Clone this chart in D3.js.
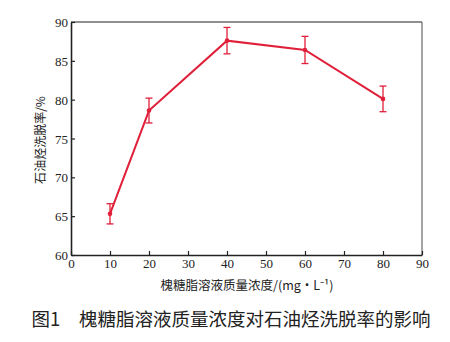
<!DOCTYPE html>
<html><head><meta charset="utf-8">
<script src="https://cdn.jsdelivr.net/npm/d3@7"></script>
<style>body{margin:0;background:#fff}svg{display:block}</style>
</head><body>
<svg id="c" width="450" height="342"></svg>
<script>
const concentrations = [10, 20, 40, 60, 80];
const elutionRate = [65.3, 78.6, 87.6, 86.4, 80.1];
const errorBars = [1.3, 1.6, 1.7, 1.75, 1.65];
const xTicks = [0,10,20,30,40,50,60,70,80,90];
const yTicks = [60,65,70,75,80,85,90];
const xLabel = "槐糖脂溶液质量浓度/(mg・L⁻¹)";
const yLabel = "石油烃洗脱率/%";
const caption = "图1　槐糖脂溶液质量浓度对石油烃洗脱率的影响";

const svg = d3.select("#c");
const m = {l:71, r:422, t:22, b:255};
const x = d3.scaleLinear().domain([0,90]).range([m.l, m.r]);
const y = d3.scaleLinear().domain([60,90]).range([m.b, m.t]);
const red = "#e01f3a";
const numFont = "'Liberation Serif','Times New Roman',serif";

svg.append("line").attr("x1",m.l).attr("x2",m.r).attr("y1",m.t).attr("y2",m.t).attr("stroke","#222").attr("stroke-width",1.2);
svg.append("line").attr("x1",m.r).attr("x2",m.r).attr("y1",m.t).attr("y2",m.b).attr("stroke","#666").attr("stroke-width",1.2);

const xa = svg.append("g").attr("transform",`translate(0,${m.b})`)
  .call(d3.axisBottom(x).tickValues(xTicks).tickSize(-4).tickPadding(3).tickSizeOuter(0));
const ya = svg.append("g").attr("transform",`translate(${m.l},0)`)
  .call(d3.axisLeft(y).tickValues(yTicks).tickSize(-4).tickPadding(4).tickSizeOuter(0));
[xa, ya].forEach(a=>{
  a.select(".domain").attr("stroke","#222").attr("stroke-width",1.6);
  a.selectAll(".tick line").attr("stroke","#222").attr("stroke-width",1.2);
  a.selectAll("text").attr("font-family",numFont).attr("font-size",13).attr("fill","#222");
});
xa.selectAll("text").attr("dy","0.8em");
ya.selectAll("text").attr("dy","0.35em").attr("dx","1");

const pts = concentrations.map((c,i)=>({c, v:elutionRate[i], e:errorBars[i]}));
svg.append("path").datum(pts)
  .attr("d", d3.line().x(d=>x(d.c)).y(d=>y(d.v)))
  .attr("fill","none").attr("stroke",red).attr("stroke-width",2);

const eb = svg.append("g").attr("stroke",red).attr("stroke-width",1.3);
pts.forEach(d=>{
  eb.append("line").attr("x1",x(d.c)).attr("x2",x(d.c)).attr("y1",y(d.v+d.e)).attr("y2",y(d.v-d.e));
  eb.append("line").attr("x1",x(d.c)-3.5).attr("x2",x(d.c)+3.5).attr("y1",y(d.v+d.e)).attr("y2",y(d.v+d.e));
  eb.append("line").attr("x1",x(d.c)-3.5).attr("x2",x(d.c)+3.5).attr("y1",y(d.v-d.e)).attr("y2",y(d.v-d.e));
});
svg.append("g").selectAll("circle").data(pts).join("circle")
  .attr("cx",d=>x(d.c)).attr("cy",d=>y(d.v)).attr("r",2.3).attr("fill",red);

svg.append("text").attr("x",247).attr("y",290).attr("text-anchor","middle")
  .attr("font-family","'Noto Sans CJK SC',"+numFont).attr("font-size",12.5).attr("fill","#222").text(xLabel);
svg.append("text").attr("transform","translate(45,140) rotate(-90)").attr("text-anchor","middle")
  .attr("font-family","'Noto Sans CJK SC',"+numFont).attr("font-size",12).attr("fill","#222").text(yLabel);
svg.append("text").attr("x",231).attr("y",326).attr("text-anchor","middle")
  .attr("font-family","'Noto Sans CJK SC',sans-serif").attr("font-size",18.5).attr("fill","#222").text(caption);
</script>
</body></html>
